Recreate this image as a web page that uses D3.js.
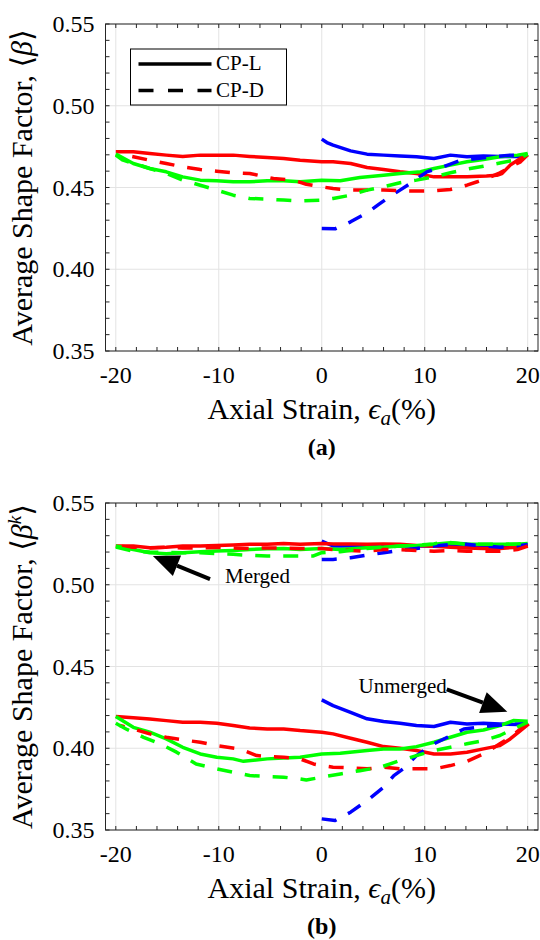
<!DOCTYPE html>
<html>
<head>
<meta charset="utf-8">
<title>Average Shape Factor vs Axial Strain</title>
<script src="https://d3js.org/d3.v7.min.js"></script>
<style>
  body { margin: 0; background: #fff; }
  svg { display: block; }
  svg text { font-family: 'Liberation Serif', 'DejaVu Serif', serif; fill: #000; }
  .tick-label { font-size: 24px; }
  .axis-label { font-size: 30px; }
  .grid line { stroke: #e3e3e3; stroke-width: 1; }
  .frame { fill: none; stroke: #262626; stroke-width: 1; }
  .ticks line { stroke: #262626; stroke-width: 1; }
  .series { fill: none; stroke-width: 3.5; stroke-linejoin: round; }
</style>
</head>
<body>
<svg width="540" height="940"></svg>
<script>
// ---- axis ticks ----
const xTicks = [-20, -10, 0, 10, 20];
const yTicks = [0.35, 0.40, 0.45, 0.50, 0.55];

// ---- panel (a): <beta> ----
// blue: 0 -> 20, red: 20 -> -20, green: -20 -> 20
const aBlueStrainL = [0, 0.5, 1.1, 2.8, 4.4, 6, 7.6, 9.2, 10.9, 12.5, 14.1, 15.7, 17.3, 19, 20];
const aBlueL       = [0.4796, 0.4775, 0.4759, 0.4724, 0.4704, 0.4698, 0.4692, 0.4688, 0.4677, 0.4698, 0.4688, 0.4692, 0.469, 0.469, 0.470];
const aRedStrainL  = [20, 19.3, 18.3, 17.5, 17, 16, 14.1, 12.5, 10.9, 9.2, 7.6, 6, 4.4, 2.8, 1.1, 0, -2.1, -3.7, -5.3, -7, -8.6, -10.2, -11.8, -13.5, -15.1, -16.7, -18.3, -20];
const aRedL        = [0.470, 0.4677, 0.4637, 0.4585, 0.4575, 0.457, 0.4565, 0.4565, 0.4565, 0.4586, 0.4596, 0.461, 0.4622, 0.4647, 0.4657, 0.4657, 0.4667, 0.4677, 0.4683, 0.469, 0.4698, 0.4698, 0.4698, 0.469, 0.4698, 0.4708, 0.4718, 0.4718];
const aGreenStrainL = [-20, -18.3, -16.7, -15.1, -13.5, -11.8, -10.2, -8.6, -7, -5.3, -3.7, -2.1, 0, 1.8, 3.7, 6, 7.6, 9.6, 10.9, 12.5, 14.1, 15.7, 17.3, 19, 20];
const aGreenL       = [0.4705, 0.4647, 0.4616, 0.4596, 0.4565, 0.4545, 0.4541, 0.4535, 0.4535, 0.4541, 0.4541, 0.4535, 0.4545, 0.4541, 0.4561, 0.4575, 0.4586, 0.4596, 0.4616, 0.4637, 0.4657, 0.4671, 0.4688, 0.4698, 0.4708];
const aBlueStrainD = [0, 1.3, 2.8, 4.4, 5.5, 6.5, 7.6, 8.6, 10.2, 11.8, 13.5, 15.1, 16.7, 18.3, 19.6];
const aBlueD       = [0.4249, 0.4247, 0.429, 0.4345, 0.4395, 0.444, 0.4484, 0.4524, 0.4596, 0.4626, 0.4667, 0.4677, 0.4688, 0.4698, 0.4698];
const aRedStrainD  = [20, 19.3, 18.3, 17.3, 16.2, 15.1, 14.1, 12.5, 10.9, 9.2, 7.6, 6, 4.4, 2.8, 1.1, 0, -1.5, -2.8, -4.7, -7, -8.6, -10.2, -11.8, -13.5, -15.1, -16.7, -18.3, -19.6];
const aRedD        = [0.470, 0.4657, 0.4625, 0.459, 0.456, 0.4535, 0.4514, 0.4488, 0.448, 0.4478, 0.448, 0.4484, 0.4484, 0.4484, 0.4494, 0.4504, 0.452, 0.4545, 0.4555, 0.4586, 0.459, 0.46, 0.461, 0.4626, 0.4647, 0.4667, 0.4688, 0.4704];
const aGreenStrainD = [-20, -19.3, -17.7, -16.7, -15.1, -13.5, -11.8, -10.2, -8.6, -7, -5.3, -3.7, -2.1, 0, 1.1, 2.8, 4.4, 6, 7.6, 9.2, 10.9, 12.5, 14.1, 15.7, 17.3, 19, 20];
const aGreenD       = [0.4698, 0.4667, 0.4637, 0.4616, 0.4586, 0.4545, 0.4514, 0.4484, 0.4453, 0.4433, 0.4429, 0.4423, 0.4418, 0.4423, 0.4433, 0.4453, 0.4484, 0.4504, 0.4529, 0.4545, 0.4565, 0.459, 0.4612, 0.463, 0.465, 0.4671, 0.4704];

// ---- panel (b): <beta^k>, unmerged (lower) ----
const bBlueStrainL = [0, 1.1, 2.8, 4.4, 6, 7.6, 9.2, 10.9, 12.5, 14.1, 15.7, 17.3, 19, 19.8];
const bBlueL       = [0.4296, 0.4261, 0.422, 0.418, 0.4163, 0.4153, 0.4139, 0.4133, 0.4159, 0.4149, 0.4153, 0.4149, 0.4145, 0.4149];
const bRedStrainL  = [20.1, 19.3, 18.3, 17.3, 15.7, 14.1, 12.5, 10.9, 9.2, 7.6, 6, 4.4, 2.8, 1.1, 0, -2.1, -3.7, -5.3, -7, -8.6, -10.2, -11.8, -13.5, -15.1, -16.7, -18.3, -20];
const bRedL        = [0.4149, 0.4108, 0.4057, 0.4016, 0.3996, 0.3976, 0.3965, 0.3965, 0.3986, 0.400, 0.401, 0.4037, 0.4061, 0.4088, 0.4098, 0.4108, 0.4118, 0.4118, 0.4124, 0.4139, 0.4153, 0.4159, 0.4159, 0.4169, 0.4179, 0.4186, 0.4194];
const bGreenStrainL = [-20, -18.3, -16.7, -15.1, -13.5, -11.8, -10.2, -8.6, -7.6, -5.3, -3.7, -2.1, 0, 1.8, 4.4, 6, 7.6, 9.2, 10.9, 12.5, 14.1, 15.7, 17.3, 18.6, 20];
const bGreenL       = [0.4194, 0.4128, 0.4098, 0.4057, 0.4006, 0.3965, 0.3945, 0.3935, 0.392, 0.3935, 0.3941, 0.3945, 0.3965, 0.3969, 0.3986, 0.3996, 0.3996, 0.401, 0.4037, 0.4067, 0.4098, 0.4112, 0.4139, 0.4169, 0.4165];
const bBlueStrainD = [0, 1.3, 2.8, 4.4, 6, 7, 7.9, 9.2, 10.9, 12.2, 13.8, 15.1, 16.7, 18.3, 19.6];
const bBlueD       = [0.3568, 0.3558, 0.3609, 0.368, 0.3761, 0.3833, 0.3874, 0.3955, 0.4027, 0.4067, 0.4118, 0.4128, 0.4139, 0.4145, 0.4149];
const bRedStrainD  = [20, 19.3, 18.3, 17.3, 15.7, 14.1, 12.5, 10.9, 9.2, 7.6, 6, 4.4, 2.8, 1.1, 0, -0.8, -2.1, -3.7, -5.3, -6.3, -8, -10.2, -11.8, -13.5, -15.1, -16.7, -18.3, -19.6];
const bRedD        = [0.4149, 0.4118, 0.4067, 0.4027, 0.3965, 0.392, 0.3894, 0.3874, 0.3874, 0.3874, 0.3884, 0.3874, 0.388, 0.3884, 0.3894, 0.3904, 0.3935, 0.3945, 0.3949, 0.3955, 0.3996, 0.4016, 0.4037, 0.4051, 0.4067, 0.4088, 0.4118, 0.4139];
const bGreenStrainD = [-20, -19, -17.3, -15.7, -14.1, -12.2, -10.2, -8.6, -7, -5.3, -3.7, -2.1, -1.5, 0, 1.8, 3.7, 5.7, 7.6, 9.2, 10.9, 12.5, 14.1, 15.7, 17.3, 18.6, 20];
const bGreenD       = [0.4153, 0.4118, 0.4067, 0.4027, 0.3976, 0.3904, 0.3874, 0.3853, 0.3833, 0.3827, 0.3823, 0.3812, 0.3806, 0.3823, 0.3843, 0.3863, 0.3884, 0.3925, 0.3955, 0.3986, 0.4006, 0.4027, 0.4047, 0.4078, 0.4118, 0.4159];

// ---- panel (b): merged (upper) ----
const mBlueStrainL = [0, 1.1, 2.8, 4.4, 6, 7.6, 9.2, 10.9, 12.5, 14.1, 15.7, 17.3, 19, 20];
const mBlueL       = [0.5267, 0.5237, 0.5237, 0.5237, 0.5237, 0.5237, 0.5237, 0.5237, 0.5247, 0.5237, 0.5227, 0.523, 0.5237, 0.5247];
const mRedStrainL  = [20, 19, 17.3, 15.7, 14.1, 12.5, 10.9, 9.2, 7.6, 6, 4.4, 2.8, 1.1, 0, -2.1, -3.7, -5.3, -7, -8.6, -10.2, -11.8, -13.5, -15.1, -16.7, -18.3, -20];
const mRedL        = [0.5237, 0.523, 0.5222, 0.5222, 0.5225, 0.523, 0.5235, 0.524, 0.5247, 0.525, 0.5247, 0.525, 0.525, 0.5253, 0.5247, 0.5253, 0.5247, 0.5247, 0.5243, 0.524, 0.5237, 0.5237, 0.523, 0.5227, 0.5237, 0.5237];
const mGreenStrainL = [-20, -18.3, -16.7, -15.1, -13.5, -11.8, -10.2, -8.6, -7, -5.3, -3.7, -2.1, 0, 1.8, 4.4, 6, 7.6, 9.2, 10.9, 12.5, 14.1, 15.7, 17.3, 19, 20];
const mGreenL       = [0.5237, 0.5216, 0.5196, 0.519, 0.5196, 0.5202, 0.5206, 0.521, 0.5216, 0.522, 0.5222, 0.5216, 0.5222, 0.5216, 0.5227, 0.523, 0.5237, 0.524, 0.5247, 0.5257, 0.525, 0.5247, 0.5247, 0.5247, 0.5253];
const mBlueStrainD = [0, 1.1, 2.8, 4.4, 6, 7.6, 9.2, 10.9, 12.5, 14.1, 15.7, 17.3, 19, 20];
const mBlueD       = [0.5155, 0.5155, 0.5165, 0.5182, 0.5196, 0.521, 0.5222, 0.5237, 0.5247, 0.5247, 0.5237, 0.523, 0.5237, 0.5247];
const mRedStrainD  = [20, 19, 17.3, 15.7, 14.1, 12.5, 10.9, 9.2, 7.6, 6, 4.4, 2.8, 1.1, 0, -2.1, -3.7, -5.3, -7, -8.6, -10.2, -11.8, -13.5, -15.1, -16.7, -18.3, -20];
const mRedD        = [0.5237, 0.5215, 0.5205, 0.5205, 0.5205, 0.521, 0.5205, 0.521, 0.5215, 0.5215, 0.5205, 0.521, 0.5215, 0.5222, 0.5222, 0.5225, 0.5225, 0.5222, 0.5225, 0.5228, 0.5225, 0.5225, 0.523, 0.5225, 0.523, 0.5237];
const mGreenStrainD = [-20, -18.3, -16.7, -15.1, -13.5, -11.8, -10.2, -8.6, -7, -5.3, -3.7, -2.1, -0.8, 0, 1.8, 4.4, 6, 7.6, 9.2, 10.9, 11.8, 14.1, 15.7, 17.3, 19, 20];
const mGreenD       = [0.523, 0.5206, 0.52, 0.5198, 0.5196, 0.5196, 0.519, 0.5186, 0.518, 0.5176, 0.5176, 0.5176, 0.5176, 0.5196, 0.5202, 0.5222, 0.523, 0.5237, 0.5243, 0.525, 0.5263, 0.5247, 0.5247, 0.5247, 0.525, 0.5253];

// annotations in panel (b), data units: [strain, value]
const mergedArrow   = { from: [-10.85, 0.5035], to: [-16.4, 0.5176], text: "Merged" };
const unmergedArrow = { from: [12.14, 0.436], to: [18.02, 0.4224], text: "Unmerged" };

const RED = "#ff0000", GREEN = "#00ff00", BLUE = "#0000ff";
const DASH = "15,13";

const svg = d3.select("svg");
const left = 105.5, right = 538;

const x = d3.scaleLinear().domain([-21, 21]).range([left, right]);

function zip(xs, ys) { return xs.map((v, i) => [v, ys[i]]); }

function drawPanel(top, bottom, series, ylabelNodes, tag) {
  const y = d3.scaleLinear().domain([0.35, 0.55]).range([bottom, top]);
  const g = svg.append("g");

  // grid
  const grid = g.append("g").attr("class", "grid");
  grid.selectAll("line.gx").data(xTicks).enter().append("line")
    .attr("x1", d => x(d)).attr("x2", d => x(d)).attr("y1", top).attr("y2", bottom);
  grid.selectAll("line.gy").data(yTicks).enter().append("line")
    .attr("x1", left).attr("x2", right).attr("y1", d => y(d)).attr("y2", d => y(d));

  // series
  const line = d3.line().x(d => x(d[0])).y(d => y(d[1]));
  g.selectAll("path.series").data(series).enter().append("path")
    .attr("class", "series")
    .attr("d", d => line(zip(d.x, d.y)))
    .attr("stroke", d => d.color)
    .attr("stroke-dasharray", d => d.dashed ? DASH : null);

  // ticks, inward on all four sides
  const tl = 4;
  const ticks = g.append("g").attr("class", "ticks");
  const xMinor = d3.range(-20, 21, 2);
  const yMinor = d3.range(35, 56, 1).map(v => v / 100);
  xMinor.forEach(t => {
    ticks.append("line").attr("x1", x(t)).attr("x2", x(t)).attr("y1", bottom).attr("y2", bottom - tl);
    ticks.append("line").attr("x1", x(t)).attr("x2", x(t)).attr("y1", top).attr("y2", top + tl);
  });
  yMinor.forEach(t => {
    ticks.append("line").attr("x1", left).attr("x2", left + tl).attr("y1", y(t)).attr("y2", y(t));
    ticks.append("line").attr("x1", right).attr("x2", right - tl).attr("y1", y(t)).attr("y2", y(t));
  });

  g.append("rect").attr("class", "frame")
    .attr("x", left).attr("y", top).attr("width", right - left).attr("height", bottom - top);

  // tick labels
  g.selectAll("text.xt").data(xTicks).enter().append("text")
    .attr("class", "tick-label").attr("text-anchor", "middle")
    .attr("x", d => x(d)).attr("y", bottom + 32)
    .text(d => d < 0 ? "-" + Math.abs(d) : d);
  g.selectAll("text.yt").data(yTicks).enter().append("text")
    .attr("class", "tick-label").attr("text-anchor", "end")
    .attr("x", left - 11).attr("y", d => y(d) + 8)
    .text(d => d3.format(".2f")(d));

  // x label
  const xl = g.append("text").attr("class", "axis-label").attr("text-anchor", "middle")
    .attr("x", (left + right) / 2).attr("y", bottom + 68);
  xl.append("tspan").text("Axial Strain, ");
  xl.append("tspan").attr("font-style", "italic").text("\u03F5");
  xl.append("tspan").attr("font-style", "italic").attr("font-size", 21).attr("dy", 6).text("a");
  xl.append("tspan").attr("dy", -6).text("(%)");

  // y label
  const yl = g.append("text").attr("class", "axis-label").attr("text-anchor", "middle")
    .attr("transform", `translate(32,${(top + bottom) / 2}) rotate(-90)`);
  ylabelNodes(yl);

  // panel tag
  g.append("text").attr("text-anchor", "middle").attr("font-weight", "bold").attr("font-size", 24)
    .attr("x", (left + right) / 2).attr("y", bottom + 104).text(tag);

  return { g, y };
}

function S(xs, ys, color, dashed) { return { x: xs, y: ys, color, dashed }; }

// ----- panel (a) -----
const pa = drawPanel(24, 351, [
  S(aBlueStrainL, aBlueL, BLUE, false),
  S(aRedStrainL, aRedL, RED, false),
  S(aGreenStrainL, aGreenL, GREEN, false),
  S(aBlueStrainD, aBlueD, BLUE, true),
  S(aRedStrainD, aRedD, RED, true),
  S(aGreenStrainD, aGreenD, GREEN, true)
], t => {
  t.append("tspan").text("Average Shape Factor, \u27E8");
  t.append("tspan").attr("font-style", "italic").text("\u03B2");
  t.append("tspan").text("\u27E9");
}, "(a)");

// legend
const lg = pa.g.append("g");
lg.append("rect").attr("x", 130.5).attr("y", 49).attr("width", 156).attr("height", 56)
  .attr("fill", "#fff").attr("stroke", "#000").attr("stroke-width", 1);
[["CP-L", false, 64], ["CP-D", true, 90.5]].forEach(([name, dashed, ly]) => {
  lg.append("line").attr("x1", 138.5).attr("x2", 211.5).attr("y1", ly).attr("y2", ly)
    .attr("stroke", "#000").attr("stroke-width", 3.5)
    .attr("stroke-dasharray", dashed ? "15,14.5" : null);
  lg.append("text").attr("x", 216).attr("y", ly + 6).attr("font-size", 21).text(name);
});

// ----- panel (b) -----
const pb = drawPanel(503, 830, [
  S(bBlueStrainL, bBlueL, BLUE, false),
  S(bRedStrainL, bRedL, RED, false),
  S(bGreenStrainL, bGreenL, GREEN, false),
  S(bBlueStrainD, bBlueD, BLUE, true),
  S(bRedStrainD, bRedD, RED, true),
  S(bGreenStrainD, bGreenD, GREEN, true),
  S(mBlueStrainL, mBlueL, BLUE, false),
  S(mRedStrainL, mRedL, RED, false),
  S(mGreenStrainL, mGreenL, GREEN, false),
  S(mBlueStrainD, mBlueD, BLUE, true),
  S(mRedStrainD, mRedD, RED, true),
  S(mGreenStrainD, mGreenD, GREEN, true)
], t => {
  t.append("tspan").text("Average Shape Factor, \u27E8");
  t.append("tspan").attr("font-style", "italic").text("\u03B2");
  t.append("tspan").attr("font-style", "italic").attr("font-size", 19).attr("dy", -11).text("k");
  t.append("tspan").attr("dy", 11).text("\u27E9");
}, "(b)");

function arrow(g, y, a) {
  const x0 = x(a.from[0]), y0 = y(a.from[1]), x1 = x(a.to[0]), y1 = y(a.to[1]);
  const ang = Math.atan2(y1 - y0, x1 - x0);
  const hl = 26, hw = 11;
  const bx = x1 - hl * Math.cos(ang), by = y1 - hl * Math.sin(ang);
  g.append("line").attr("x1", x0).attr("y1", y0).attr("x2", bx).attr("y2", by)
    .attr("stroke", "#000").attr("stroke-width", 4);
  const px = -Math.sin(ang) * hw, py = Math.cos(ang) * hw;
  g.append("path")
    .attr("d", `M${x1},${y1}L${bx + px},${by + py}L${bx - px},${by - py}Z`)
    .attr("fill", "#000");
}

arrow(pb.g, pb.y, mergedArrow);
arrow(pb.g, pb.y, unmergedArrow);
pb.g.append("text").attr("font-size", 21)
  .attr("x", x(mergedArrow.from[0]) + 15).attr("y", pb.y(mergedArrow.from[1]) + 4)
  .text(mergedArrow.text);
pb.g.append("text").attr("font-size", 21).attr("text-anchor", "end")
  .attr("x", x(unmergedArrow.from[0])).attr("y", pb.y(unmergedArrow.from[1]) + 4)
  .text(unmergedArrow.text);
</script>
</body>
</html>
